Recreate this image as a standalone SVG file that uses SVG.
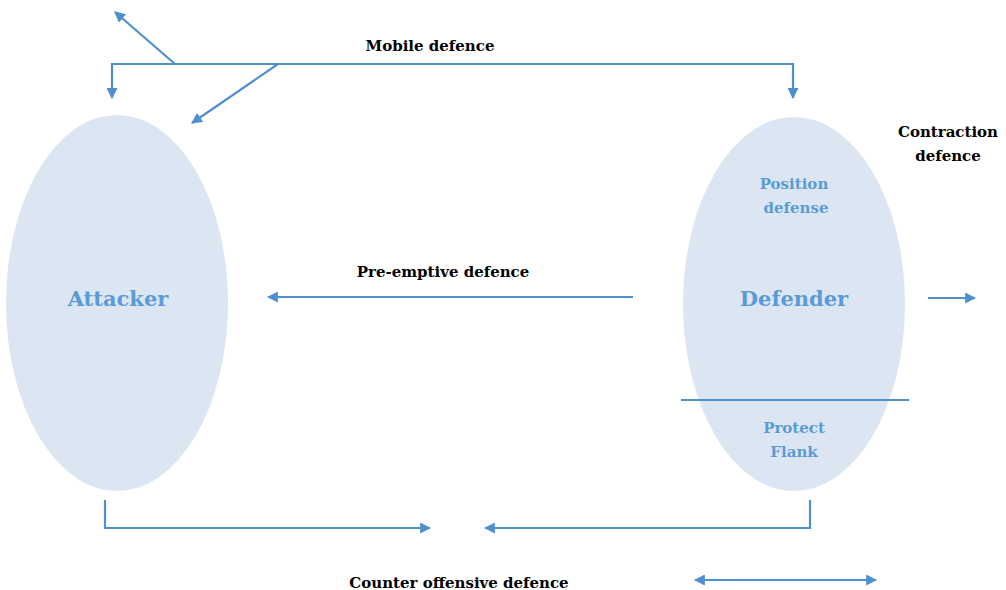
<svg xmlns="http://www.w3.org/2000/svg" width="1006" height="590" viewBox="0 0 1006 590">
<defs>
<marker id="ah" viewBox="0 0 10 10" refX="9" refY="5" markerWidth="5" markerHeight="5" orient="auto-start-reverse" markerUnits="strokeWidth">
<path d="M0,0 L10,5 L0,10 z" fill="#4f8fcf"/>
</marker>
<style>
.ell{fill:#dce6f2;stroke:none}
.ln{fill:none;stroke:#4f8fcf;stroke-width:2.2}
.arr{marker-end:url(#ah)}
.both{marker-start:url(#ah);marker-end:url(#ah)}
.lbl{font-family:"DejaVu Serif","Liberation Serif",serif;font-weight:bold;font-size:15px;fill:#000;text-anchor:middle}
.in{font-family:"DejaVu Serif","Liberation Serif",serif;font-weight:bold;font-size:15px;fill:#5b9bd5;text-anchor:middle}
.big{font-family:"DejaVu Serif","Liberation Serif",serif;font-weight:bold;font-size:21px;fill:#5b9bd5;text-anchor:middle}
</style>
</defs>
<rect width="1006" height="590" fill="#fff"/>
<g id="attacker">
<ellipse class="ell" cx="117" cy="303" rx="111" ry="188"/>
<text class="big" x="118" y="306">Attacker</text>
</g>
<g id="defender">
<ellipse class="ell" cx="794" cy="304" rx="111" ry="187"/>
<text class="in" x="794" y="189">Position</text>
<text class="in" x="796" y="213">defense</text>
<text class="big" x="794" y="306">Defender</text>
<text class="in" x="794" y="433">Protect</text>
<text class="in" x="794" y="457">Flank</text>
</g>
<g id="labels">
<text class="lbl" x="430" y="51">Mobile defence</text>
<text class="lbl" x="948" y="137">Contraction</text>
<text class="lbl" x="948" y="161">defence</text>
<text class="lbl" x="443" y="277">Pre-emptive defence</text>
<text class="lbl" x="459" y="588">Counter offensive defence</text>
</g>
<g id="connectors">
<polyline class="ln both" points="112,98 112,64 793,64 793,98"/>
<line class="ln arr" x1="175" y1="64" x2="115" y2="12"/>
<line class="ln arr" x1="278" y1="64" x2="192" y2="123"/>
<line class="ln arr" x1="633" y1="297" x2="268" y2="297"/>
<line class="ln arr" x1="928" y1="298" x2="975" y2="298"/>
<line class="ln" x1="681" y1="400" x2="909" y2="400"/>
<polyline class="ln arr" points="105,500 105,528 430,528"/>
<polyline class="ln arr" points="810,500 810,528 485,528"/>
<line class="ln both" x1="695" y1="580" x2="876" y2="580"/>
</g>
</svg>
